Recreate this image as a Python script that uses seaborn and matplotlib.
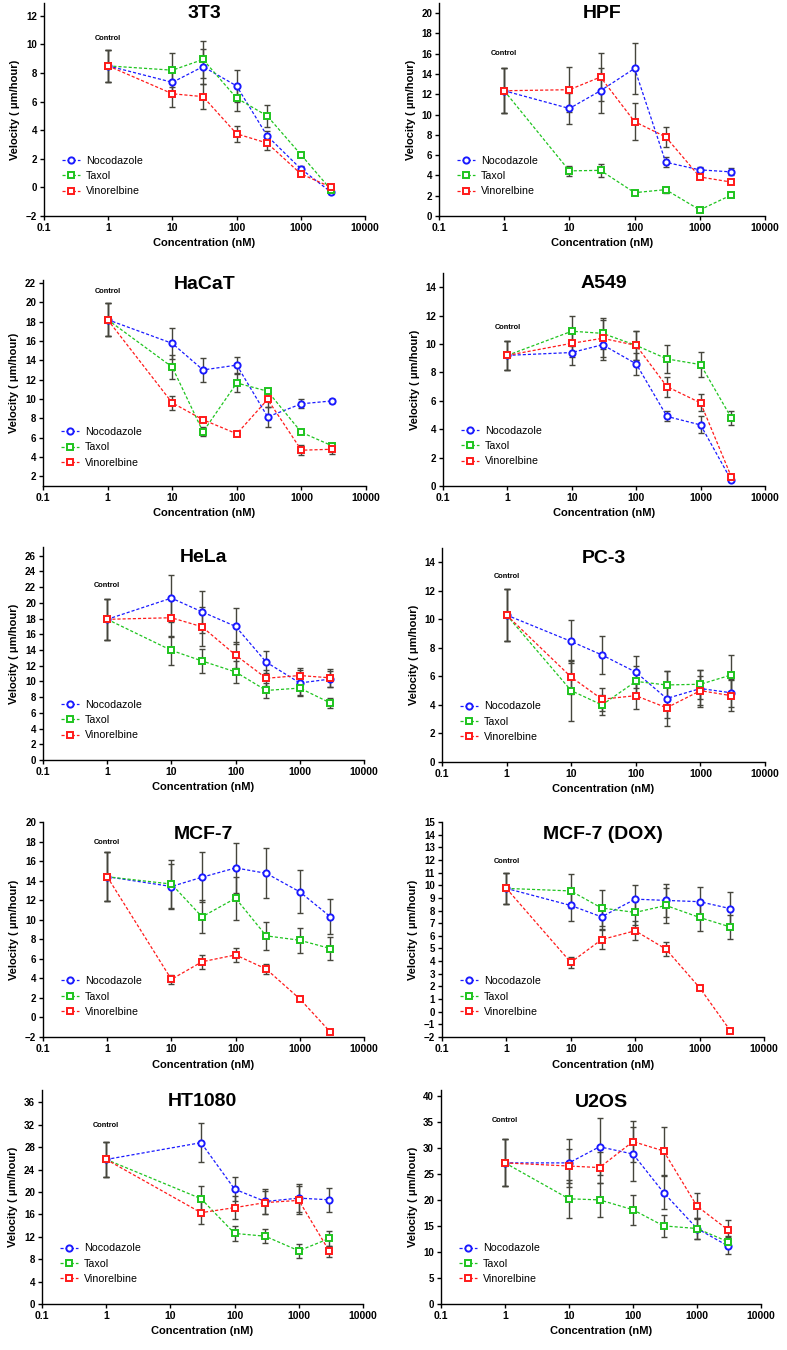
import numpy as np
import pandas as pd
import matplotlib
matplotlib.use("Agg")
import matplotlib.pyplot as plt
from matplotlib.ticker import NullLocator
import seaborn as sns

drugs = ["Nocodazole", "Taxol", "Vinorelbine"]
conc = [1, 10, 30, 100, 300, 1000, 3000]
conc_ht1080 = [1, 30, 100, 300, 1000, 3000]
x_ticks = [0.1, 1, 10, 100, 1000, 10000]
x_tick_labels = ["0.1", "1", "10", "100", "1000", "10000"]

# mean velocity (um/hour) and error
v_3t3 = {"Nocodazole": [8.5, 7.35, 8.45, 7.1, 3.6, 1.3, -0.35],
         "Taxol": [8.5, 8.2, 8.95, 6.25, 5.0, 2.3, -0.2],
         "Vinorelbine": [8.5, 6.55, 6.35, 3.75, 3.1, 0.95, 0.0]}
e_3t3 = {"Nocodazole": [1.1, 0.8, 1.25, 1.1, 0.35, 0.2, 0.1],
         "Taxol": [1.1, 1.2, 1.3, 0.9, 0.75, 0.2, 0.1],
         "Vinorelbine": [1.1, 0.9, 0.85, 0.55, 0.45, 0.15, 0.1]}

v_hpf = {"Nocodazole": [12.35, 10.6, 12.35, 14.55, 5.3, 4.55, 4.35],
         "Taxol": [12.35, 4.45, 4.5, 2.3, 2.6, 0.6, 2.05],
         "Vinorelbine": [12.35, 12.45, 13.7, 9.3, 7.8, 3.85, 3.35]}
e_hpf = {"Nocodazole": [2.2, 1.5, 2.2, 2.5, 0.5, 0.3, 0.35],
         "Taxol": [2.2, 0.5, 0.65, 0.1, 0.3, 0.1, 0.1],
         "Vinorelbine": [2.2, 2.2, 2.4, 1.8, 0.95, 0.1, 0.1]}

v_hacat = {"Nocodazole": [18.2, 15.75, 13.0, 13.5, 8.15, 9.5, 9.8],
           "Taxol": [18.2, 13.3, 6.6, 11.65, 10.8, 6.55, 5.15],
           "Vinorelbine": [18.2, 9.6, 7.85, 6.4, 9.95, 4.7, 4.8]}
e_hacat = {"Nocodazole": [1.7, 1.6, 1.25, 0.85, 1.0, 0.45, 0.2],
           "Taxol": [1.7, 1.2, 0.45, 0.9, 0.2, 0.1, 0.2],
           "Vinorelbine": [1.7, 0.75, 0.1, 0.1, 0.8, 0.5, 0.5]}

v_a549 = {"Nocodazole": [9.2, 9.4, 9.95, 8.6, 4.9, 4.3, 0.4],
          "Taxol": [9.2, 10.9, 10.75, 9.9, 8.95, 8.55, 4.8],
          "Vinorelbine": [9.2, 10.05, 10.4, 9.9, 7.0, 5.85, 0.65]}
e_a549 = {"Nocodazole": [1.0, 0.85, 1.05, 0.75, 0.35, 0.6, 0.05],
          "Taxol": [1.0, 1.05, 1.1, 1.0, 1.0, 0.9, 0.5],
          "Vinorelbine": [1.0, 1.0, 1.3, 1.0, 0.7, 0.6, 0.05]}

v_hela = {"Nocodazole": [17.9, 20.6, 18.85, 17.0, 12.45, 9.8, 10.3],
          "Taxol": [17.9, 13.95, 12.6, 11.2, 8.85, 9.15, 7.25],
          "Vinorelbine": [17.9, 18.1, 16.95, 13.35, 10.4, 10.75, 10.45]}
e_hela = {"Nocodazole": [2.6, 3.0, 2.7, 2.3, 1.4, 1.6, 1.0],
          "Taxol": [2.6, 1.8, 1.5, 1.4, 0.9, 0.9, 0.6],
          "Vinorelbine": [2.6, 2.5, 2.5, 1.6, 1.0, 1.0, 1.1]}

v_pc3 = {"Nocodazole": [10.3, 8.45, 7.5, 6.3, 4.45, 5.15, 4.85],
         "Taxol": [10.3, 5.0, 4.0, 5.65, 5.4, 5.45, 6.1],
         "Vinorelbine": [10.3, 5.95, 4.4, 4.65, 3.8, 5.0, 4.65]}
e_pc3 = {"Nocodazole": [1.8, 1.5, 1.35, 1.1, 1.9, 1.3, 1.0],
         "Taxol": [1.8, 2.1, 0.7, 1.1, 1.0, 1.0, 1.4],
         "Vinorelbine": [1.8, 1.2, 0.8, 0.9, 0.75, 1.0, 1.1]}

v_mcf7 = {"Nocodazole": [14.4, 13.4, 14.35, 15.3, 14.75, 12.85, 10.3],
          "Taxol": [14.4, 13.65, 10.3, 12.2, 8.35, 7.9, 7.05],
          "Vinorelbine": [14.4, 3.9, 5.7, 6.4, 4.95, 1.9, -1.5]}
e_mcf7 = {"Nocodazole": [2.5, 2.3, 2.55, 2.6, 2.55, 2.2, 1.8],
          "Taxol": [2.5, 2.5, 1.7, 2.2, 1.4, 1.3, 1.2],
          "Vinorelbine": [2.5, 0.45, 0.7, 0.7, 0.55, 0.1, 0.1]}

v_mcf7_dox = {"Nocodazole": [9.75, 8.4, 7.5, 8.9, 8.8, 8.7, 8.15],
              "Taxol": [9.75, 9.55, 8.2, 7.85, 8.4, 7.45, 6.7],
              "Vinorelbine": [9.75, 3.9, 5.7, 6.4, 4.95, 1.9, -1.5]}
e_mcf7_dox = {"Nocodazole": [1.25, 1.2, 0.95, 1.1, 1.3, 1.2, 1.3],
              "Taxol": [1.25, 1.35, 1.45, 1.0, 1.35, 1.1, 0.95],
              "Vinorelbine": [1.25, 0.45, 0.75, 0.75, 0.55, 0.1, 0.1]}

v_ht1080 = {"Nocodazole": [25.8, 28.8, 20.5, 18.3, 18.9, 18.6],
            "Taxol": [25.8, 18.8, 12.6, 12.1, 9.5, 11.7],
            "Vinorelbine": [25.8, 16.3, 17.2, 18.1, 18.5, 9.4]}
e_ht1080 = {"Nocodazole": [3.2, 3.5, 2.1, 2.3, 2.5, 2.1],
            "Taxol": [3.2, 2.2, 1.3, 1.3, 1.2, 1.4],
            "Vinorelbine": [3.2, 2.0, 2.0, 2.1, 2.5, 1.0]}

v_u2os = {"Nocodazole": [27.1, 27.1, 30.2, 28.8, 21.4, 14.5, 11.2],
          "Taxol": [27.1, 20.2, 20.0, 18.1, 15.0, 14.5, 12.0],
          "Vinorelbine": [27.1, 26.5, 26.2, 31.2, 29.4, 18.8, 14.3]}
e_u2os = {"Nocodazole": [4.5, 4.6, 5.5, 5.2, 3.1, 2.0, 1.6],
          "Taxol": [4.5, 3.6, 3.3, 2.9, 2.1, 2.0, 1.0],
          "Vinorelbine": [4.5, 3.2, 3.0, 4.0, 4.6, 2.5, 1.8]}

colors = {"Nocodazole": "#1a1aff", "Taxol": "#1fc41f", "Vinorelbine": "#ff1a1a"}
markers = {"Nocodazole": "o", "Taxol": "s", "Vinorelbine": "s"}

# name, x, values, errors, ylim, yticks, control label y, pixel box (L, R, T, B), title y
panels = [
    ("3T3", conc, v_3t3, e_3t3, (-2, 12.9), np.arange(-2, 13, 2), 10.45, (44, 365, 3, 216), 0.93),
    ("HPF", conc, v_hpf, e_hpf, (0, 21), np.arange(0, 21, 2), 16.0, (439, 765, 3, 216), 0.93),
    ("HaCaT", conc, v_hacat, e_hacat, (1, 22.3), np.arange(2, 23, 2), 21.15, (43, 366, 280, 486), 0.955),
    ("A549", conc, v_a549, e_a549, (0, 15), np.arange(0, 15, 2), 11.15, (443, 765, 273, 486), 0.93),
    ("HeLa", conc, v_hela, e_hela, (0, 27.1), np.arange(0, 27, 2), 22.2, (43, 364, 547, 760), 0.93),
    ("PC-3", conc, v_pc3, e_pc3, (0, 15), np.arange(0, 15, 2), 13.0, (442, 765, 548, 762), 0.93),
    ("MCF-7", conc, v_mcf7, e_mcf7, (-2, 20), np.arange(-2, 21, 2), 17.95, (43, 364, 822, 1037), 0.92),
    ("MCF-7 (DOX)", conc, v_mcf7_dox, e_mcf7_dox, (-2, 15), np.arange(-2, 16, 1), 11.9, (442, 764, 822, 1037), 0.92),
    ("HT1080", conc_ht1080, v_ht1080, e_ht1080, (0, 38.2), np.arange(0, 37, 4), 31.8, (42, 363, 1090, 1304), 0.925),
    ("U2OS", conc, v_u2os, e_u2os, (0, 41.1), np.arange(0, 41, 5), 35.2, (441, 761, 1090, 1304), 0.92),
]

sns.set_style("ticks")
plt.rcParams["font.family"] = ["Liberation Sans", "DejaVu Sans"]
plt.rcParams["font.weight"] = "bold"
plt.rcParams["axes.edgecolor"] = "black"
plt.rcParams["axes.labelcolor"] = "black"
plt.rcParams["text.color"] = "black"
plt.rcParams["xtick.color"] = "black"
plt.rcParams["ytick.color"] = "black"

W, H = 787, 1350
fig = plt.figure(figsize=(W / 100, H / 100), dpi=100)

for name, x, vals, errs, ylim, yticks, ctrl_y, box, title_y in panels:
    L, R, T, B = box
    ax = fig.add_axes([L / W, 1 - B / H, (R - L) / W, (B - T) / H])
    ax.set_xscale("log")

    rows = []
    for drug in drugs:
        for c, v, e in zip(x, vals[drug], errs[drug]):
            rows.append({"conc": c, "velocity": v, "err": e, "drug": drug})
    df = pd.DataFrame(rows)

    for drug in drugs:
        sub = df[df["drug"] == drug]
        ax.errorbar(sub["conc"], sub["velocity"], yerr=sub["err"], fmt="none",
                    ecolor="#45453c", elinewidth=1.0, capsize=2.3, capthick=1.0, zorder=2)

    for drug in drugs:
        sub = df[df["drug"] == drug]
        sns.lineplot(data=sub, x="conc", y="velocity", ax=ax, color=colors[drug],
                     marker=markers[drug], markersize=4.5, markerfacecolor="white",
                     markeredgecolor=colors[drug], markeredgewidth=1.4,
                     linewidth=0.9, linestyle=(0, (2.5, 1.6)), errorbar=None,
                     label=drug, zorder=3)

    ax.set_xlim(0.1, 10000)
    ax.set_xticks(x_ticks)
    ax.set_xticklabels(x_tick_labels)
    ax.xaxis.set_minor_locator(NullLocator())
    ax.set_ylim(*ylim)
    ax.set_yticks(yticks)
    ax.tick_params(direction="out", length=3, width=1, labelsize=7, pad=2)
    for lab in ax.get_xticklabels():
        lab.set_fontsize(7.5)
    for s in ["left", "bottom"]:
        ax.spines[s].set_linewidth(1.0)
    sns.despine(ax=ax)

    ax.set_xlabel("Concentration (nM)", fontsize=8, fontweight="bold", labelpad=4)
    ax.set_ylabel("Velocity ( \u03bcm/hour)", fontsize=8, fontweight="bold", labelpad=4)
    ax.set_title(name, y=title_y, pad=0, fontsize=14, fontweight="bold", color="black")
    ax.text(1, ctrl_y, "Control", ha="center", va="center", fontsize=5.3, fontweight="bold")

    ax.legend(loc="center left", bbox_to_anchor=(0.055, 0.188), frameon=False,
              prop={"size": 7.7, "weight": "normal"}, handlelength=1.7,
              handletextpad=0.55, borderpad=0, borderaxespad=0, labelspacing=0.5)

fig.savefig("out.png", dpi=100)
